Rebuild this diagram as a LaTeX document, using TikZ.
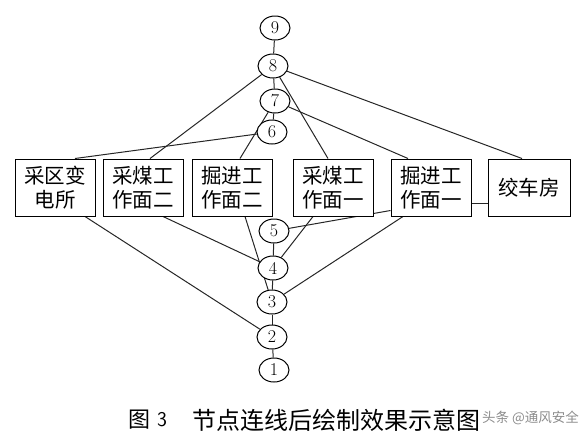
\documentclass[tikz,border=0pt]{standalone}
\usepackage{fontspec}
\newfontfamily\cjk{Noto Sans CJK SC}
\usetikzlibrary{shapes.geometric,backgrounds}
\begin{document}
\begin{tikzpicture}[x=1pt,y=-1pt,
  conn/.style={line width=1pt,black!85},
  num/.style={ellipse,draw,line width=1pt,fill=white,minimum width=30pt,minimum height=24pt,inner sep=0pt,font=\fontsize{18}{18}\selectfont},
  room/.style={rectangle,draw,line width=1pt,fill=white,minimum width=80pt,minimum height=57pt,inner sep=0pt,align=center,font=\cjk\fontsize{20.5}{24}\selectfont},
  captext/.style={inner sep=0pt,font=\cjk\fontsize{22}{22}\selectfont}]
\useasboundingbox (0,0) rectangle (584,440);
% numbered nodes
\node[num] (n9) at (275,28) {9};
\node[num] (n8) at (273,66) {8};
\node[num] (n7) at (275,101) {7};
\node[num] (n6) at (272,132) {6};
\node[num] (n5) at (274,231) {5};
\node[num] (n4) at (273,268) {4};
\node[num] (n3) at (272,302) {3};
\node[num] (n2) at (272,337) {2};
\node[num] (n1) at (274,370) {1};
% rooms
\node[room] (b1) at (55,187.5) {采区变\\电所};
\node[room] (b2) at (143,187.5) {采煤工\\作面二};
\node[room] (b3) at (232,187.5) {掘进工\\作面二};
\node[room] (b4) at (333,187.5) {采煤工\\作面一};
\node[room] (b5) at (431,187.5) {掘进工\\作面一};
\node[room, minimum width=82pt] (b6) at (529,187.5) {绞车房};
% connectors
\begin{scope}[on background layer]
\draw[conn] (n9) -- (n8);
\draw[conn] (n8) -- (n7);
\draw[conn] (n7) -- (n6);
\draw[conn] (n5) -- (n4);
\draw[conn] (n4) -- (n3);
\draw[conn] (n3) -- (n2);
\draw[conn] (n2) -- (n1);
\draw[conn] (n8) -- ([xshift=7pt]b2.north);
\draw[conn] (n8) -- ([xshift=-5pt]b4.north);
\draw[conn] (n8) -- ([xshift=-7pt]b6.north);
\draw[conn] (n7) -- ([xshift=8pt]b3.north);
\draw[conn] (n7) -- ([xshift=-23pt]b5.north);
\draw[conn] (n6) -- ([xshift=20pt]b1.north);
\draw[conn] ([xshift=30pt]b1.south) -- (n2);
\draw[conn] ([xshift=20pt]b2.south) -- (n4);
\draw[conn] ([xshift=13pt]b3.south) -- (n3);
\draw[conn] ([xshift=-20pt]b4.south) -- (n4);
\draw[conn] ([xshift=-28pt]b5.south) -- (n3);
\draw[conn] (n5) -- ([yshift=-23pt]b5.west);
\draw[conn] ([yshift=-16pt]b5.east) -- ([yshift=-16pt]b6.west);
\end{scope}
% caption
\node[captext] (c1) at (139,420) {图};
\node[captext,font=\fontsize{21}{21}\selectfont\sffamily] (c2) at (162,420) {3};
\node[captext,anchor=west,font=\cjk\fontsize{24}{24}\selectfont] (c3) at (192,420) {节点连线后绘制效果示意图};
\node[inner sep=0pt,anchor=west,text=black!45,font=\cjk\fontsize{13.5}{13.5}\selectfont] (wm) at (482,418) {头条 @通风安全};
\end{tikzpicture}
\end{document}
